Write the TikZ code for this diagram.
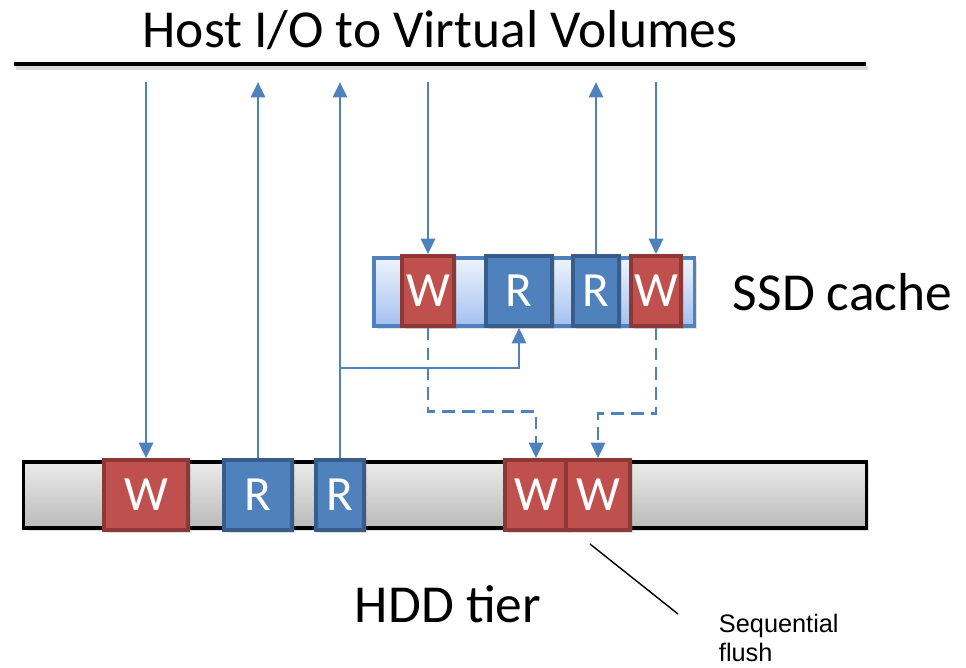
\documentclass[tikz,border=0pt]{standalone}
\usepackage{fontspec}
\setmainfont{Carlito}
\newfontfamily\notefont{Liberation Sans}
\usetikzlibrary{positioning, calc, shadows, arrows.meta}
\definecolor{ioblue}{RGB}{79, 129, 189}
\definecolor{iobluedark}{RGB}{56, 93, 138}
\definecolor{iored}{RGB}{192, 80, 77}
\definecolor{ioreddark}{RGB}{140, 56, 54}
\definecolor{ssdtop}{RGB}{238, 244, 253}
\definecolor{ssdbottom}{RGB}{163, 192, 240}

\tikzset{
    block/.style={minimum height=1.75cm, inner sep=0pt, text=white, line width=2.6pt,
                  font=\fontsize{35}{38}\selectfont,
                  drop shadow={opacity=0.25, shadow xshift=2pt, shadow yshift=-2pt}},
    wblock/.style={block, fill=iored, draw=ioreddark},
    rblock/.style={block, fill=ioblue, draw=iobluedark},
    io/.style={draw=ioblue, line width=2.1pt, -{Triangle[length=11pt, width=10pt]}},
    flush/.style={io, dash pattern=on 9pt off 5pt},
    bigtext/.style={font=\fontsize{38}{44}\selectfont}
}

\begin{document}
\begin{tikzpicture}[x=0.025cm, y=-0.025cm]
    \useasboundingbox (0,0) rectangle (966,668);

    % host side
    \node[bigtext] (title) at (440,30) {Host I/O to Virtual Volumes};
    \draw[line width=3pt, black!25, opacity=0.6] (16,68) -- (868,68);
    \draw[line width=3.2pt] (14,64) -- (866,64);
    \foreach \x [count=\i] in {146, 258, 340, 428, 596, 656}
        \coordinate (h\i) at (\x,82);

    % SSD cache
    \node[draw=ioblue, line width=2.2pt, top color=ssdtop, bottom color=ssdbottom,
          minimum width=8cm, minimum height=1.7cm,
          drop shadow={opacity=0.25, shadow xshift=2pt, shadow yshift=-2pt}] (ssd) at (534,292) {};
    \node[wblock, minimum width=1.3cm] (sw1) at (428,291) {W};
    \node[rblock, minimum width=1.65cm] (sr1) at (519,291) {R};
    \node[rblock, minimum width=1.15cm] (sr2) at (596,291) {R};
    \node[wblock, minimum width=1.25cm] (sw2) at (656,291) {W};
    \node[bigtext, anchor=west] (ssdlabel) at (728,292) {SSD cache};

    % HDD tier
    \node[draw=black, line width=2.2pt, top color=black!8, bottom color=black!27,
          minimum width=21.05cm, minimum height=1.65cm,
          drop shadow={opacity=0.25, shadow xshift=2pt, shadow yshift=-2pt}] (hdd) at (445,495) {};
    \node[wblock, minimum width=2.1cm] (hw1) at (146,495) {W};
    \node[rblock, minimum width=1.7cm] (hr1) at (258,495) {R};
    \node[rblock, minimum width=1.2cm] (hr2) at (340,495) {R};
    \node[wblock, minimum width=1.55cm] (hw2) at (536,495) {W};
    \node[wblock, minimum width=1.6cm] (hw3) at (598,495) {W};
    \node[bigtext] (hddlabel) at (448,604) {HDD tier};

    % host I/O
    \draw[io] (h1) -- (hw1.north);
    \draw[io] (hr1.north) -- (h2);
    \draw[io] (hr2.north) -- (h3);
    \draw[io] (h4) -- (sw1.north);
    \draw[io] (sr2.north) -- (h5);
    \draw[io] (h6) -- (sw2.north);
    \coordinate (split) at (340,368);
    \draw[io] (split) -| (sr1.south);

    % destage
    \draw[flush] (sw1.south) -- ++(0,84) -| (hw2.north);
    \draw[flush] (sw2.south) -- ++(0,86) -| (hw3.north);

    % note
    \node[font=\notefont\fontsize{18}{21}\selectfont, align=left, anchor=north west]
        (note) at (714,609) {Sequential\\flush};
    \coordinate (notetip) at (590,544);
    \draw[line width=1pt] (notetip) -- (678,614);
\end{tikzpicture}
\end{document}
